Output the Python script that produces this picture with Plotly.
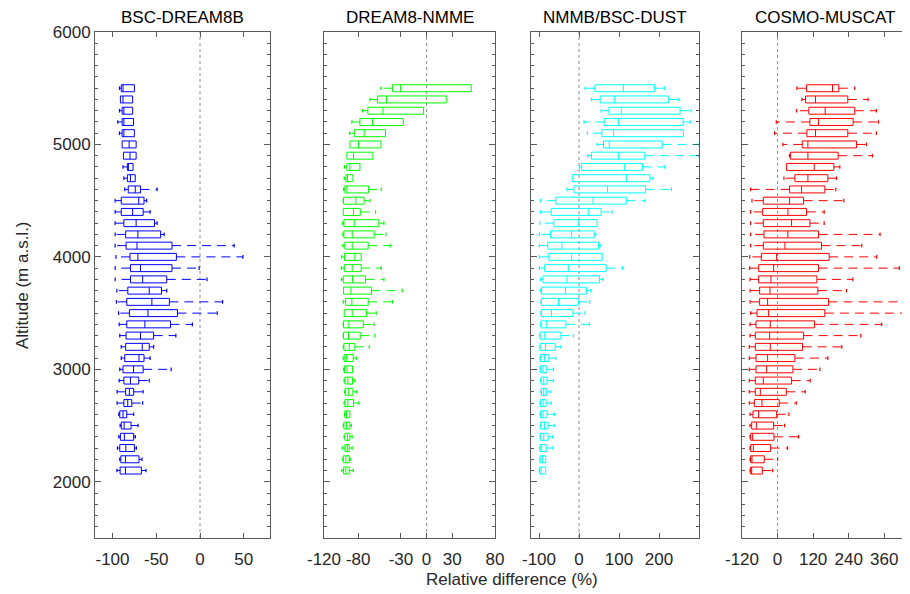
import plotly.graph_objects as go

# Altitude levels (m a.s.l.), top to bottom
levels = [5500, 5400, 5300, 5200, 5100, 5000, 4900, 4800, 4700, 4600,
          4500, 4400, 4300, 4200, 4100, 4000, 3900, 3800, 3700, 3600,
          3500, 3400, 3300, 3200, 3100, 3000, 2900, 2800, 2700, 2600,
          2500, 2400, 2300, 2200, 2100]

panel_names = ["BSC-DREAM8B", "DREAM8-NMME", "NMMB/BSC-DUST", "COSMO-MUSCAT"]
panel_colors = ["#0000ff", "#00ff00", "#00ffff", "#ff0000"]

# ---- BSC-DREAM8B ----
p1_lw = [-92, -91, -92, -94, -92, -89, -87.5, -88, -87, -86, -97, -97, -97, -97, -97, -96, -97, -97, -95, -95.5,
         -93, -92.4, -91.7, -90, -90, -91.7, -92.4, -94.7, -94.7, -92.8, -91.3, -92.8, -94.3, -91.7, -95]
p1_q1 = [-90, -91, -89, -89, -89, -89, -87.5, -83, -83, -82, -90, -90, -87, -85, -84.5, -80, -79.5, -79.5, -82.5, -83.7,
         -80.7, -83.7, -84.5, -85, -86, -88, -87, -85, -87, -91.7, -90, -91, -91.7, -90.5, -91.3]
p1_med = [-88, -88, -87, -87, -87, -81, -80, -82, -79.5, -74, -70, -77, -73, -71, -72, -71, -68, -65.5, -58, -55,
          -59.5, -63, -68, -66, -69.7, -76, -79.5, -80.7, -82.6, -88, -86.7, -86.4, -84.8, -85.2, -85.2]
p1_q3 = [-75, -77, -77, -76, -75, -73, -73, -76.5, -74, -68, -64, -65, -52, -45, -32, -27, -32, -38, -44, -35,
         -25.8, -33.7, -53, -58, -64, -65, -70, -75.8, -78, -83.7, -78.8, -75.8, -75, -69.7, -67]
p1_uw = [-75, -77, -77, -76, -75, -73, -73, -76.5, -74, -49, -61, -57, -49, -41, 39, 49, -1, 8, -38, 25.8,
         19.7, -8.7, -27.6, -53, -57, -33, -58, -65, -65.5, -75.8, -70.8, -73.9, -72.7, -66.3, -61.7]

# ---- DREAM8-NMME ----
p2_lw = [-53.5, -66.3, -74.9, -87.4, -90.1, -89.7, -93.2, -96, -96.3, -97.1, -97.5, -97.5, -98.3, -97.9, -97.9, -99.5,
         -99.8, -99.5, -97.1, -97.5, -96.3, -97.5, -97.5, -97.5, -97.5, -97, -96.5, -96, -96.5, -96, -97.5, -96.5, -98.7,
         -98, -99.1]
p2_q1 = [-39.8, -57.3, -68.7, -78, -84.6, -89.7, -93.2, -93.2, -94.4, -95.6, -97.1, -97.5, -96.7, -96.7, -95.6, -96,
         -96.3, -97.5, -97.1, -94.8, -96.3, -97.1, -97.1, -96.7, -96.3, -96, -95.6, -95.2, -95.6, -95.6, -96.7, -95.6,
         -95.6, -97.5, -97.1]
p2_med = [-30.4, -46.8, -51.1, -63.2, -73, -79.6, -85.4, -89.7, -92.4, -93.2, -82.7, -85.4, -84.6, -87, -87, -83.9,
          -87, -86.6, -88.5, -87.4, -87, -90.9, -91.3, -90.5, -93.5, -93, -92, -91, -92, -93.6, -93.6, -92.4, -92.8,
          -94.4, -94.4]
p2_q3 = [52.2, 23, -3.5, -27.3, -48, -53.4, -62.8, -78, -86.2, -67.9, -73, -77.6, -55.8, -61.3, -68.3, -76.5, -76.5,
         -71.4, -64.4, -68.3, -70.2, -74.1, -77.6, -83.9, -85.8, -86.6, -86.6, -86.2, -85.4, -89.7, -89.7, -89.7, -90.5,
         -90.5, -90.5]
p2_uw = [52.2, 23, -3.5, -27.3, -48, -53.4, -62.8, -78, -86.2, -53.1, -66.3, -59.7, -49.9, -47.6, -42.5, -76.5, -53.1,
         -49.9, -28.5, -39.8, -58.9, -61.6, -60.5, -67.1, -82.3, -86.6, -83.9, -81.9, -79.2, -89.7, -88, -87, -87,
         -89.3, -85.8]

# ---- NMMB/BSC-DUST ----
p3_lw = [15.1, 31.1, 55.4, 12.6, 21, 45.4, 21.9, 0.8, -16.8, -30.2, -96.5, -96.5, -98.2, -99, -99, -99, -99, -96.5,
         -96.5, -94.8, -95, -96, -98, -98, -97, -97, -96, -95, -97, -97, -96.5, -97, -98, -98, -99]
p3_q1 = [39.5, 52.9, 74.8, 63, 57.1, 61.3, 31.1, 6.7, -16.8, -12.6, -57.9, -69.7, -63, -71.3, -78.1, -75.5, -85.6,
         -89.8, -94, -94, -94, -94.8, -97.4, -97.4, -96.5, -96.5, -94.8, -94, -96.5, -96.5, -95.7, -96.5, -97.4, -97.4,
         -98.2]
p3_med = [110.8, 88.2, 105.8, 99.1, 86.5, 75.6, 99.1, 113.4, 118.4, 71.4, 35.3, 24.4, -2, -18.4, -42.8, -18.4, -26.8,
          -30.2, -33.6, -51.2, -68.8, -80.6, -85.6, -84, -86.5, -89.8, -88.1, -88.1, -89.8, -89.8, -86.5, -88.1, -93.2,
          -91.5, -94.8]
p3_q3 = [189, 224.2, 252.7, 260.3, 261.1, 208.2, 164.6, 158.7, 177.2, 166.3, 118.4, 55.4, 45.4, 37.8, 48.7, 58, 68,
         51.2, 18.5, -1.7, -15.1, -32.7, -45.3, -59.6, -75.5, -80.6, -79.7, -80.6, -82.3, -79.7, -77.2, -77.2, -82.3,
         -83.1, -83.1]
p3_uw = [214.1, 249.4, 280.4, 277.9, 261.1, 300, 300, 214.1, 184.7, 231, 165.4, 82.3, 45.4, 42, 52.9, 58, 109.2, 60.5,
         29.4, 26.9, 15.1, 26, -14.3, -45.3, -57.9, -63.8, -63.8, -72.2, -69.7, -61.3, -62.1, -66.3, -65.5, -83.1,
         -83.1]

# ---- COSMO-MUSCAT ----
p4_lw = [65.2, 82.1, 64.1, -4.4, -10, 18.1, 40, 30.4, 21.5, -90.8, -86.3, -90.8, -90.8, -90.8, -90.8, -94.1, -94.1,
         -93, -93, -93, -90.8, -93, -93, -95.3, -95.3, -95.3, -95.3, -95.3, -95.3, -93, -93, -93, -93, -93, -93]
p4_q1 = [97.8, 94.4, 105.6, 109, 98.9, 83.2, 43.9, 30.4, 58.5, 40.5, -48.1, -50.4, -48.1, -45.9, -48.1, -54.9, -63.8,
         -63.8, -60.5, -60.5, -69.5, -72.8, -75.1, -75.1, -72.8, -72.8, -75.1, -75.1, -78.4, -82.9, -87.4, -90.8, -90.8,
         -90.8, -90.8]
p4_med = [185.3, 128.1, 160.6, 138.2, 128.1, 102.3, 102.3, 123.6, 102.3, 80.9, 40.5, 34.9, 47.3, 34.9, 24.8, -3.2,
          -13.3, -22.3, -25.7, -33.5, -30.2, -24.6, -26.8, -24.6, -33.5, -36.9, -48.1, -58.2, -52.6, -63.8, -71.7, -84,
          -81.8, -86.3, -87.4]
p4_q3 = [206.6, 236.9, 260.5, 254.9, 236.9, 266.1, 204.4, 189.8, 169.6, 159.5, 87.7, 97.8, 109, 138.2, 148.3, 174.1,
         138.2, 132.6, 135.9, 171.9, 159.5, 124.7, 87.7, 84.3, 58.5, 51.8, 47.3, 29.3, 5.7, -3.2, -13.3, -12.2, -23.4,
         -44.8, -51.5]
p4_uw = [260.5, 305.4, 333.5, 340.2, 333.5, 299.8, 320, 210, 198.8, 196.5, 223.5, 157.2, 157.2, 345.8, 284, 334.6,
         410.9, 253.8, 232.5, 430, 426, 351.4, 280.7, 216.7, 169.6, 142.7, 110.1, 93.3, 63, 38.3, 23.7, 70.8, 33.8, 0.1,
         -16.7]

# Axis settings
x_ranges = [[-120, 80], [-120, 80], [-120, 300], [-120, 440]]
x_ticks = [[-100, -50, 0, 50], [-120, -80, -30, 0, 30, 80], [-100, 0, 100, 200], [-120, 0, 120, 240, 360]]
y_range = [1500, 6000]
y_title = "Altitude (m a.s.l.)"
x_title = "Relative difference (%)"

panels = [
    (p1_lw, p1_q1, p1_med, p1_q3, p1_uw),
    (p2_lw, p2_q1, p2_med, p2_q3, p2_uw),
    (p3_lw, p3_q1, p3_med, p3_q3, p3_uw),
    (p4_lw, p4_q1, p4_med, p4_q3, p4_uw),
]

# The page body has an 8 px margin, so the figure is laid out 8 px smaller / shifted.
OFF = 8
W, H = 910 - OFF, 594 - OFF
ML, MR, MT, MB = 95 - OFF, 2, 32 - OFF, 594 - 538
PW, PH = W - ML - MR, H - MT - MB
x_domains_px = [(95, 270), (324, 495), (531, 699), (742, 908)]


def px_x(p):
    return (p - OFF - ML) / PW


def px_y(p):
    return 1 - (p - OFF - MT) / PH


FONT = "Liberation Sans, Arial, sans-serif"
AXIS_COLOR = "#5a5a5a"
TEXT_COLOR = "#262626"
CAP = 16  # half-height of whisker caps (m)

fig = go.Figure()

for k, (lw, q1, med, q3, uw) in enumerate(panels):
    xa = "x" if k == 0 else f"x{k+1}"
    ya = "y" if k == 0 else f"y{k+1}"
    col = panel_colors[k]

    fig.add_trace(go.Box(
        y=levels, q1=q1, median=med, q3=q3, lowerfence=q1, upperfence=q3,
        orientation="h", width=62, line=dict(color=col, width=1),
        fillcolor="rgba(0,0,0,0)", whiskerwidth=0, boxpoints=False,
        xaxis=xa, yaxis=ya, showlegend=False, hoverinfo="skip",
    ))

    # dashed whiskers
    wx, wy, cx, cy = [], [], [], []
    for lv, a, b, c, d in zip(levels, lw, q1, q3, uw):
        if a < b:
            wx += [b, a, None]
            wy += [lv, lv, None]
            cx += [a, a, None]
            cy += [lv - CAP, lv + CAP, None]
        if d > c:
            wx += [c, d, None]
            wy += [lv, lv, None]
            cx += [d, d, None]
            cy += [lv - CAP, lv + CAP, None]
    fig.add_trace(go.Scatter(x=wx, y=wy, mode="lines", line=dict(color=col, width=1, dash="9px,6px"),
                             xaxis=xa, yaxis=ya, showlegend=False, hoverinfo="skip"))
    fig.add_trace(go.Scatter(x=cx, y=cy, mode="lines", line=dict(color=col, width=1.2),
                             xaxis=xa, yaxis=ya, showlegend=False, hoverinfo="skip"))

    # zero reference line
    fig.add_shape(type="line", xref=xa, yref=f"{ya} domain", x0=0, x1=0, y0=0, y1=1,
                  line=dict(color="#8c8c8c", width=1, dash="dot"), layer="below")

    dom = [max(0.0, px_x(x_domains_px[k][0])), min(1.0, px_x(x_domains_px[k][1]))]
    xkey = "xaxis" if k == 0 else f"xaxis{k+1}"
    ykey = "yaxis" if k == 0 else f"yaxis{k+1}"
    fig.update_layout(**{
        xkey: dict(domain=dom, range=x_ranges[k], anchor=ya, tickmode="array", tickvals=x_ticks[k],
                   ticktext=[str(v) for v in x_ticks[k]], ticks="inside", ticklen=5, tickcolor=AXIS_COLOR,
                   showline=True, linecolor=AXIS_COLOR, linewidth=1, mirror="ticks", showgrid=False,
                   zeroline=False, tickfont=dict(family=FONT, size=17, color=TEXT_COLOR),
                   ticklabelstandoff=6, automargin=False, fixedrange=True),
        ykey: dict(domain=[0, 1], range=y_range, anchor=xa, tickmode="linear", tick0=0, dtick=1000,
                   ticks="inside", ticklen=6, tickcolor=AXIS_COLOR,
                   minor=dict(dtick=100, tick0=0, ticks="inside", ticklen=3, tickcolor=AXIS_COLOR, showgrid=False),
                   showline=True, linecolor=AXIS_COLOR, linewidth=1, mirror="ticks", showgrid=False,
                   zeroline=False, showticklabels=(k == 0), automargin=False,
                   tickfont=dict(family=FONT, size=17, color=TEXT_COLOR), fixedrange=True),
    })

    fig.add_annotation(text=panel_names[k], xref=f"{xa} domain", yref="paper", x=0.5, y=px_y(18),
                       xanchor="center", yanchor="middle", showarrow=False,
                       font=dict(family=FONT, size=17, color="#000000"))

fig.add_annotation(text=y_title, xref="paper", yref="paper", x=px_x(22), y=px_y(285), textangle=-90,
                   xanchor="center", yanchor="middle", showarrow=False,
                   font=dict(family=FONT, size=17, color=TEXT_COLOR))
fig.add_annotation(text=x_title, xref="paper", yref="paper", x=px_x(512), y=px_y(579),
                   xanchor="center", yanchor="middle", showarrow=False,
                   font=dict(family=FONT, size=17, color=TEXT_COLOR))

fig.update_layout(width=W, height=H, margin=dict(l=ML, r=MR, t=MT, b=MB, autoexpand=False),
                  paper_bgcolor="white", plot_bgcolor="white", showlegend=False, boxmode="overlay")

fig.write_html("out.html")
